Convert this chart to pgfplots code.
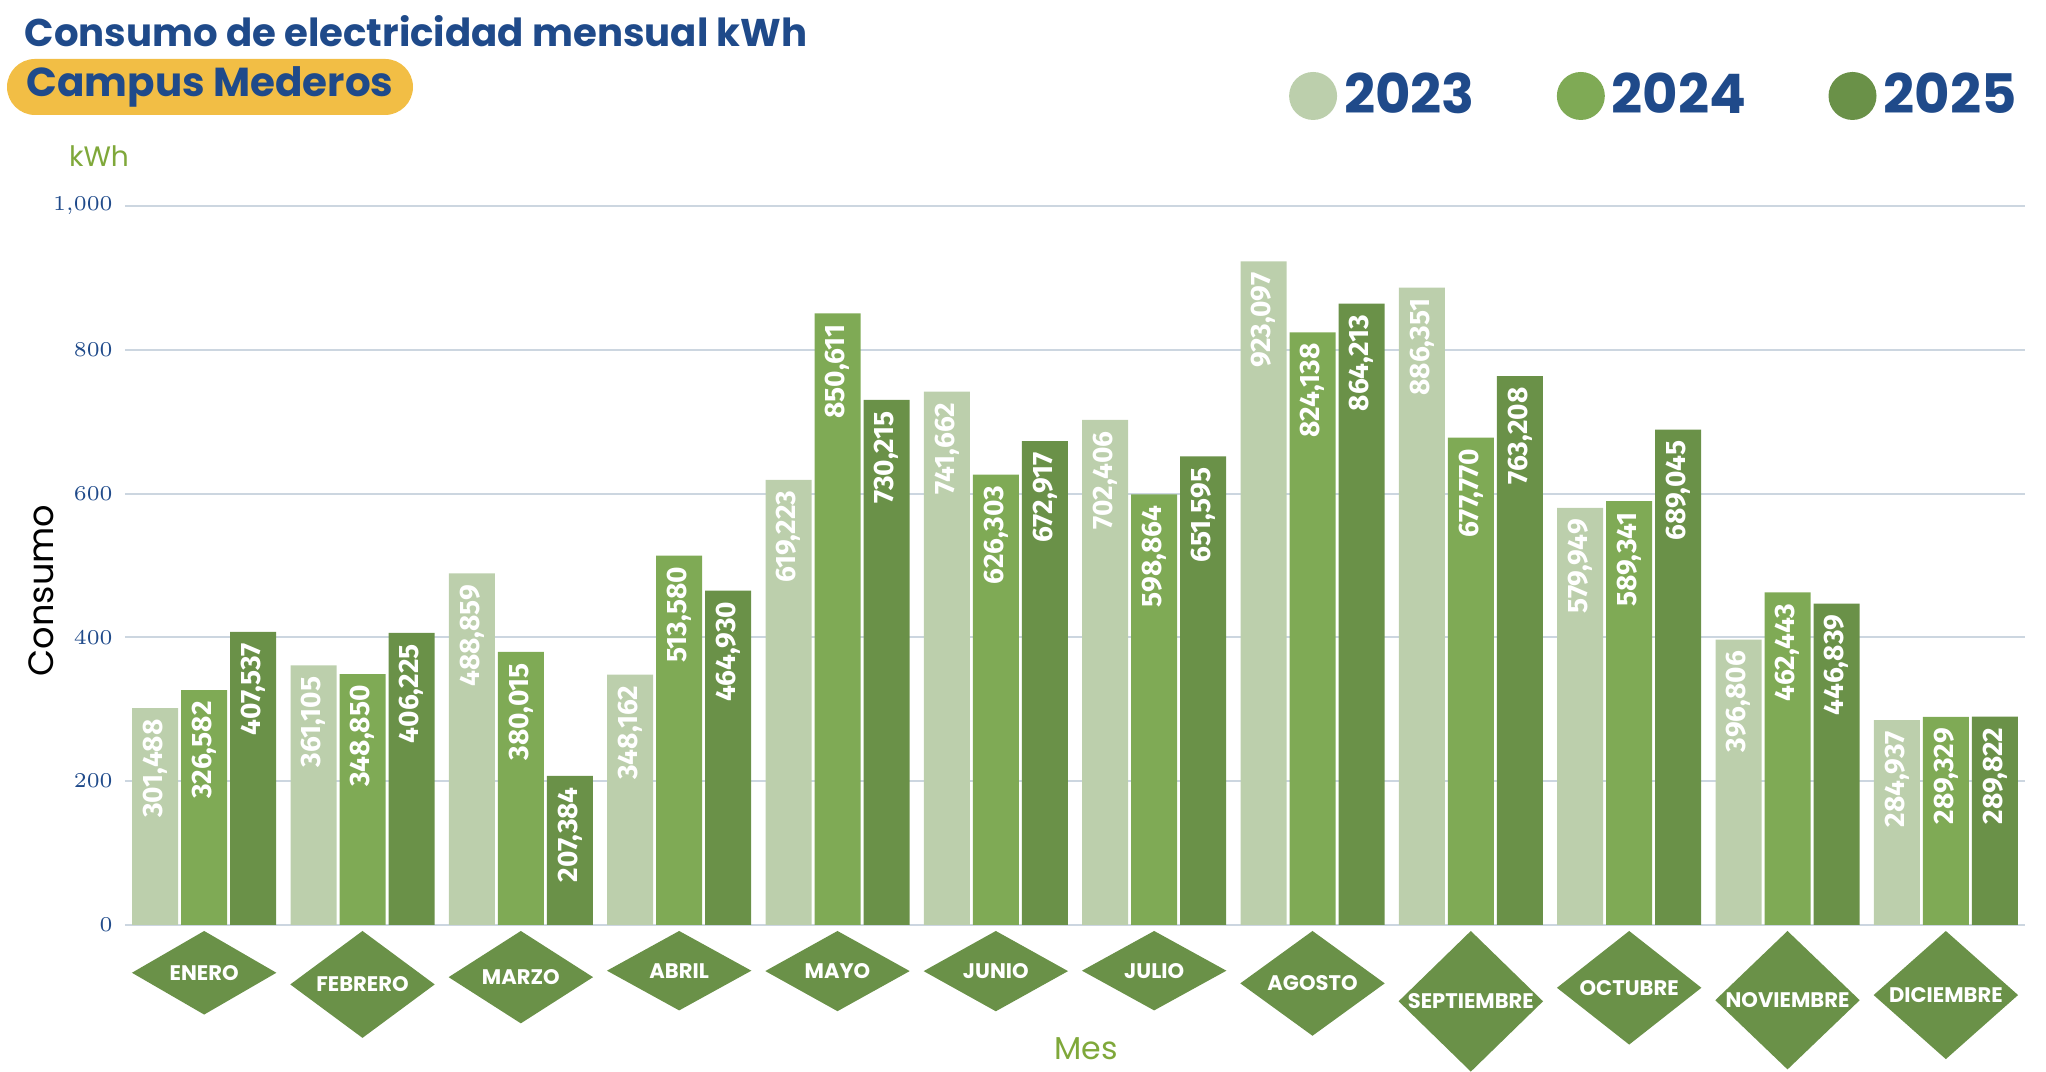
\documentclass[border=0pt]{standalone}
\usepackage{pgfplots}
\pgfplotsset{compat=1.18}
\usepackage{fontspec}
\setmainfont{Poppins}
\newfontfamily\valfont{Fira Sans}
\usetikzlibrary{shapes.geometric}
\definecolor{cA}{HTML}{BCCFAC}
\definecolor{cB}{HTML}{7FAA55}
\definecolor{cC}{HTML}{6A9148}
\definecolor{navy}{HTML}{1F4A8A}
\definecolor{gold}{HTML}{F2BE45}
\definecolor{lbl}{HTML}{7FA83A}
\definecolor{gridc}{HTML}{CCD6E0}
\begin{document}
\begin{tikzpicture}
\path[use as bounding box] (0,0) rectangle (20.46,10.72);
\node[anchor=west,text=navy,font=\bfseries\fontsize{11}{12}\selectfont,inner sep=0pt] at (0.24,10.41) {Consumo de electricidad mensual kWh};
\node[fill=gold,rounded corners=0.28cm,minimum width=4.06cm,minimum height=0.56cm,text=navy,font=\bfseries\fontsize{11.5}{12}\selectfont,inner sep=1pt] at (2.1,9.85) {Campus Mederos};
\node[text=lbl,font=\fontsize{8}{9}\selectfont] at (0.99,9.16) {kWh};
\node[text=lbl,font=\fontsize{9}{10}\selectfont] at (10.86,0.23) {Mes};
\begin{axis}[
  at={(1.25cm,1.47cm)}, anchor=south west,
  scale only axis, width=19.0cm, height=7.19cm,
  ybar=0.03cm, bar width=0.46cm,
  xmin=-0.5, xmax=11.5, ymin=0, ymax=1000,
  axis line style={draw=none},
  ymajorgrids, grid style={gridc, line width=0.6pt},
  ytick={0,200,...,1000},
  yticklabel style={text=navy,font=\bfseries\fontsize{6}{7}\selectfont},
  xtick=data,
  xticklabels={ENERO,FEBRERO,MARZO,ABRIL,MAYO,JUNIO,JULIO,AGOSTO,SEPTIEMBRE,OCTUBRE,NOVIEMBRE,DICIEMBRE},
  xticklabel style={shape=diamond,fill=cC,text=white,font=\bfseries\fontsize{6}{7}\selectfont,
     minimum width=1.45cm,minimum height=0.8cm,inner sep=0pt,anchor=north,yshift=-0.05cm},
  major tick length=0pt,
  ylabel={Consumo}, ylabel style={text=lbl,font=\fontsize{9}{10}\selectfont},
  every axis y label/.style={at={(ticklabel cs:0.5)},rotate=90,anchor=center,xshift=-0.25cm},
  point meta=explicit symbolic,
  nodes near coords,
  nodes near coords style={rotate=90,anchor=east,text=white,font=\valfont\bfseries\fontsize{8}{9}\selectfont,inner sep=3pt},
  legend columns=3,
  legend style={at={(0.806,1.153)},anchor=center,draw=none,fill=none,
     font=\bfseries\fontsize{15.5}{16}\selectfont,text=navy,
     /tikz/every even column/.append style={column sep=0.75cm}},
  legend image code/.code={\fill[#1] (0.1cm,0cm) circle (0.24cm);},
]
\addplot[fill=cA,draw=none] coordinates {(0,301.488)[301,488] (1,361.105)[361,105] (2,488.859)[488,859] (3,348.162)[348,162] (4,619.223)[619,223] (5,741.662)[741,662] (6,702.406)[702,406] (7,923.097)[923,097] (8,886.351)[886,351] (9,579.949)[579,949] (10,396.806)[396,806] (11,284.937)[284,937]};
\addplot[fill=cB,draw=none] coordinates {(0,326.582)[326,582] (1,348.850)[348,850] (2,380.015)[380,015] (3,513.580)[513,580] (4,850.611)[850,611] (5,626.303)[626,303] (6,598.864)[598,864] (7,824.138)[824,138] (8,677.770)[677,770] (9,589.341)[589,341] (10,462.443)[462,443] (11,289.329)[289,329]};
\addplot[fill=cC,draw=none] coordinates {(0,407.537)[407,537] (1,406.225)[406,225] (2,207.384)[207,384] (3,464.930)[464,930] (4,730.215)[730,215] (5,672.917)[672,917] (6,651.595)[651,595] (7,864.213)[864,213] (8,763.208)[763,208] (9,689.045)[689,045] (10,446.839)[446,839] (11,289.822)[289,822]};
\legend{2023,2024,2025}
\end{axis}
\end{tikzpicture}
\end{document}
